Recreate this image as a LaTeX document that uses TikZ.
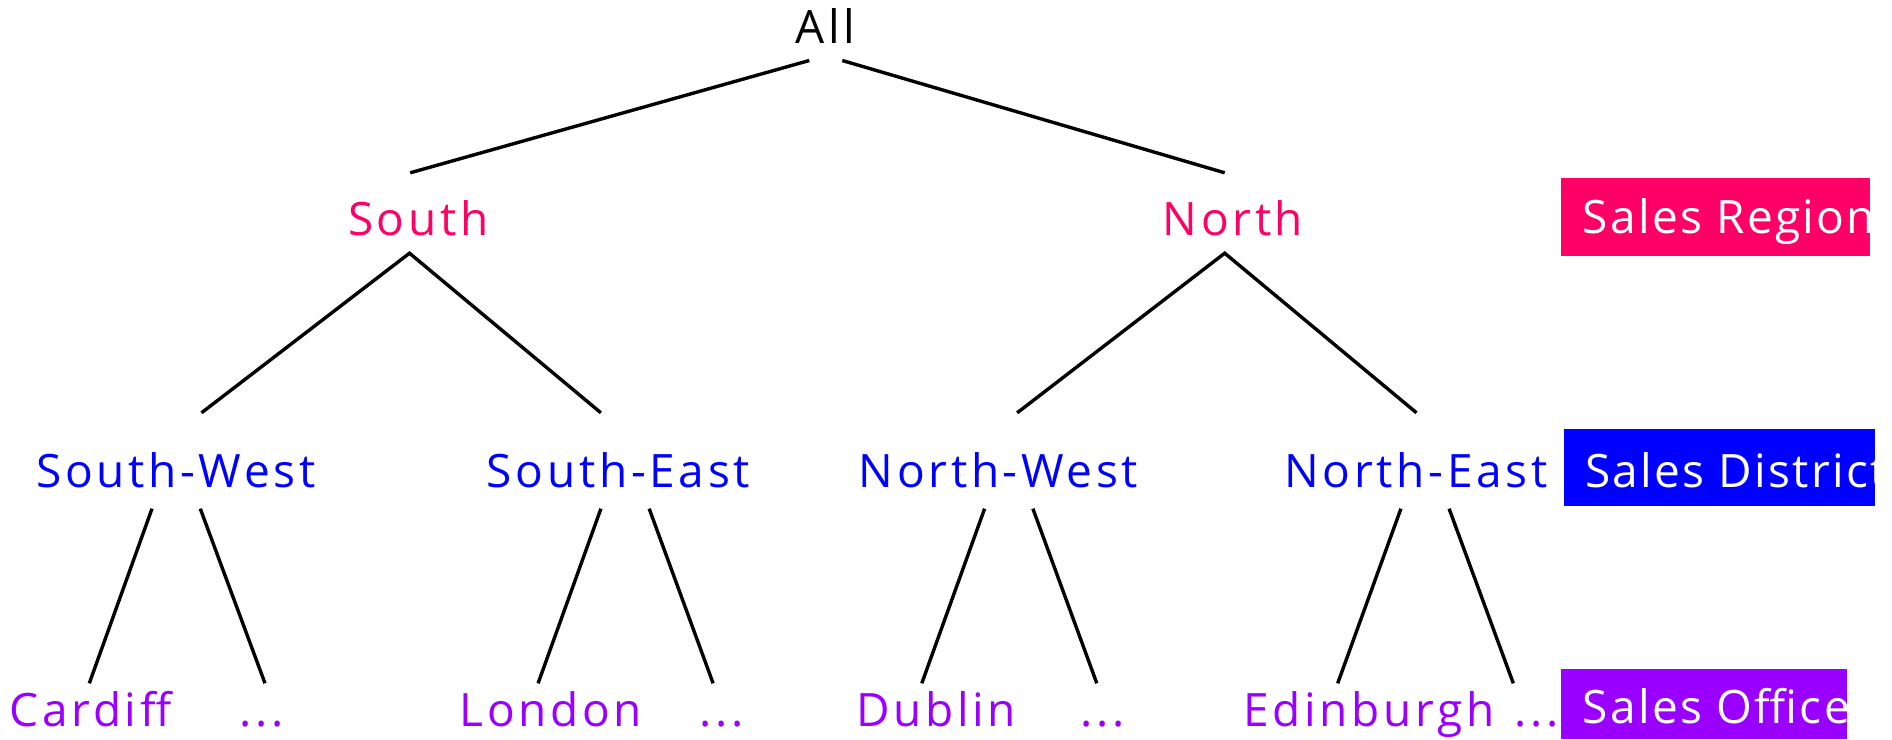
\documentclass[tikz,border=0pt]{standalone}
\usepackage{fontspec}
\setmainfont{Open Sans}[LetterSpace=8]
\newfontfamily\keyfont{Open Sans}[LetterSpace=5]
\usetikzlibrary{calc}
\definecolor{regioncol}{HTML}{FF0066}
\definecolor{districtcol}{HTML}{0000FF}
\definecolor{officecol}{HTML}{9900FF}
\begin{document}
\begin{tikzpicture}[x=1pt,y=-1pt,
  lbl/.style={inner sep=0pt, anchor=base, text height=33pt, text depth=10pt,
              font=\fontsize{46}{54}\selectfont},
  regionlbl/.style={lbl, text=regioncol},
  districtlbl/.style={lbl, text=districtcol},
  officelbl/.style={lbl, text=officecol},
  edge/.style={line width=3.4pt, draw=black},
  keybox/.style={inner sep=0pt, anchor=north west, draw=none},
  keytext/.style={inner sep=0pt, anchor=base west, text=white,
              font=\keyfont\fontsize{46}{54}\selectfont}]
\useasboundingbox (0,0) rectangle (1892,739);

% tree labels
\node[lbl] (all) at (825.5,43.3) {All};
\node[regionlbl] (south) at (418.3,235) {South};
\node[regionlbl] (north) at (1233,235) {North};
\node[districtlbl] (sw) at (176,487.5) {South-West};
\node[districtlbl] (se) at (618.4,487.5) {South-East};
\node[districtlbl] (nw) at (998.5,487.5) {North-West};
\node[districtlbl] (ne) at (1416,487.5) {North-East};
\node[officelbl] (cardiff) at (90.5,726) {Cardiff};
\node[officelbl] (swmore) at (262,726) {...};
\node[officelbl] (london) at (550.8,726) {London};
\node[officelbl] (semore) at (721.5,726) {...};
\node[officelbl] (dublin) at (936.3,726) {Dublin};
\node[officelbl] (nwmore) at (1102.8,726) {...};
\node[officelbl] (edinburgh) at (1368.7,726) {Edinburgh};
\node[officelbl] (nemore) at (1536.7,726) {...};

% root to regions
\draw[edge] ($(all.south)+(-16.2,7)$) -- ($(south.north)+(-8.1,-29)$);
\draw[edge] ($(all.south)+(16.8,7)$) -- ($(north.north)+(-8.3,-29)$);

% regions to districts
\draw[edge] ($(sw.north)+(25.5,-41.5)$) -- ($(south.south)+(-8.8,8)$) -- ($(se.north)+(-17.5,-41.5)$);
\draw[edge] ($(nw.north)+(18.7,-41.5)$) -- ($(north.south)+(-8.3,8)$) -- ($(ne.north)+(0.5,-41.5)$);

% districts to offices
\draw[edge] ($(sw.south)+(-24,11)$) -- ($(cardiff.north)+(-1.2,-9.5)$);
\draw[edge] ($(sw.south)+(24.3,11)$) -- ($(swmore.north)+(3,-9.5)$);
\draw[edge] ($(se.south)+(-17.5,11)$) -- ($(london.north)+(-12.7,-9.5)$);
\draw[edge] ($(se.south)+(30.8,11)$) -- ($(semore.north)+(-8.4,-9.5)$);
\draw[edge] ($(nw.south)+(-13.9,11)$) -- ($(dublin.north)+(-14.5,-9.5)$);
\draw[edge] ($(nw.south)+(34.4,11)$) -- ($(nwmore.north)+(-6,-9.5)$);
\draw[edge] ($(ne.south)+(-15.1,11)$) -- ($(edinburgh.north)+(-31,-9.5)$);
\draw[edge] ($(ne.south)+(33.1,11)$) -- ($(nemore.north)+(-23.4,-9.5)$);

% level key boxes, text clipped at the box edge
\node[keybox, fill=regioncol, minimum width=309pt, minimum height=78pt] (regionkey) at (1561,178) {};
\begin{scope}
  \clip (regionkey.north west) rectangle (regionkey.south east);
  \node[keytext] (regiontext) at (1582.7,233) {Sales Region};
\end{scope}

\node[keybox, fill=districtcol, minimum width=311pt, minimum height=77pt] (districtkey) at (1564,429) {};
\begin{scope}
  \clip (districtkey.north west) rectangle (districtkey.south east);
  \node[keytext] (districttext) at (1585,487) {Sales District};
\end{scope}

\node[keybox, fill=officecol, minimum width=286pt, minimum height=70pt] (officekey) at (1561,669) {};
\begin{scope}
  \clip (officekey.north west) rectangle (officekey.south east);
  \node[keytext] (officetext) at (1582.7,723) {Sales Office};
\end{scope}
\end{tikzpicture}
\end{document}
